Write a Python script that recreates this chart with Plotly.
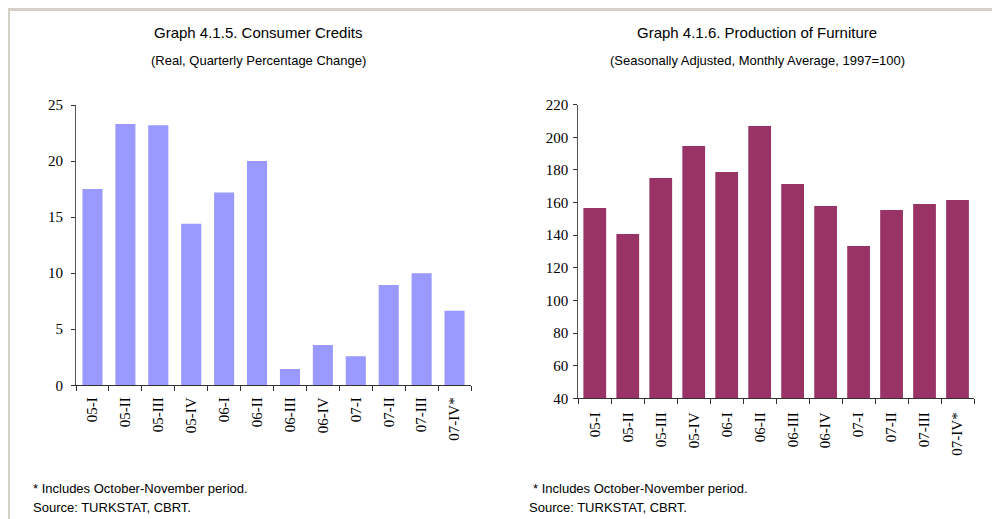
import plotly.graph_objects as go

categories = ["05-I", "05-II", "05-III", "05-IV", "06-I", "06-II", "06-III", "06-IV",
              "07-I", "07-II", "07-III", "07-IV*"]
consumer_credits = [17.5, 23.3, 23.2, 14.4, 17.2, 20.0, 1.45, 3.6, 2.6, 8.95, 10.0, 6.65]
furniture = [156.7, 140.7, 175.0, 194.7, 178.7, 207.0, 171.4, 157.9, 133.4, 155.4, 159.1, 161.6]

title_left = "Graph 4.1.5. Consumer Credits"
sub_left = "(Real, Quarterly Percentage Change)"
title_right = "Graph 4.1.6. Production of Furniture"
sub_right = "(Seasonally Adjusted, Monthly Average, 1997=100)"
note = "* Includes October-November period."
source = "Source: TURKSTAT, CBRT."

OFF = 8  # page body margin
W, H = 1000 - OFF, 519 - OFF
SANS = "Liberation Sans Narrow, Arial Narrow, Liberation Sans, Arial, sans-serif"
SERIF = "Liberation Serif, Times New Roman, serif"

def px(x):
    return (x - OFF) / W

def py(y):
    return 1 - (y - OFF) / H

fig = go.Figure()
fig.add_trace(go.Bar(x=categories, y=consumer_credits, marker_color="#9999ff",
                     marker_line_width=0, width=0.61, xaxis="x", yaxis="y"))
fig.add_trace(go.Bar(x=categories, y=furniture, marker_color="#993366",
                     marker_line_width=0, width=0.69, xaxis="x2", yaxis="y2"))

xcommon = dict(type="category", showline=True, linecolor="#333", linewidth=1,
               ticks="outside", tickson="boundaries", ticklen=5, tickcolor="#333",
               tickangle=-90, tickfont=dict(family=SERIF, size=15, color="#000"),
               showgrid=False, zeroline=False, fixedrange=True, automargin=False)
ycommon = dict(showline=True, linecolor="#555", linewidth=1, ticks="outside",
               ticklen=4, tickcolor="#333", tickfont=dict(family=SERIF, size=15, color="#000"),
               showgrid=False, zeroline=False, fixedrange=True, automargin=False)

fig.update_layout(
    template="none",
    width=W, height=H, autosize=False,
    margin=dict(l=0, r=0, t=0, b=0, pad=0),
    paper_bgcolor="white", plot_bgcolor="white",
    showlegend=False,
    xaxis=dict(domain=[px(76), px(471)], anchor="y", ticklabelstandoff=5, **xcommon),
    yaxis=dict(domain=[py(385.3), py(105)], anchor="x", range=[0, 25], dtick=5,
               ticklabelstandoff=5, **ycommon),
    xaxis2=dict(domain=[px(578.3), px(974)], anchor="y2", ticklabelstandoff=7, **xcommon),
    yaxis2=dict(domain=[py(398.3), py(104.7)], anchor="x2", range=[40, 220], dtick=20,
                ticklabelstandoff=2, **ycommon),
)

ann = []
def text(x, y, t, size, xanchor="center"):
    ann.append(dict(x=px(x), y=py(y), xref="paper", yref="paper", text=t, showarrow=False,
                    xanchor=xanchor, yanchor="middle",
                    font=dict(family=SANS, size=size, color="#000")))

text(258, 33, title_left, 15)
text(258, 61, sub_left, 13)
text(757, 33, title_right, 15)
text(757, 61, sub_right, 13)
text(31, 488, note, 13, "left")
text(31, 507, source, 13, "left")
text(531, 488, note, 13, "left")
text(527, 507, source, 13, "left")
fig.update_layout(annotations=ann)

fig.update_layout(shapes=[
    dict(type="line", xref="paper", yref="paper", x0=0, x1=1, y0=py(9.5), y1=py(9.5),
         line=dict(color="#d4d0c8", width=3)),
    dict(type="line", xref="paper", yref="paper", x0=px(9), x1=px(9), y0=py(9.5), y1=0,
         line=dict(color="#d4d0c8", width=2)),
])

fig.write_html("out.html")
